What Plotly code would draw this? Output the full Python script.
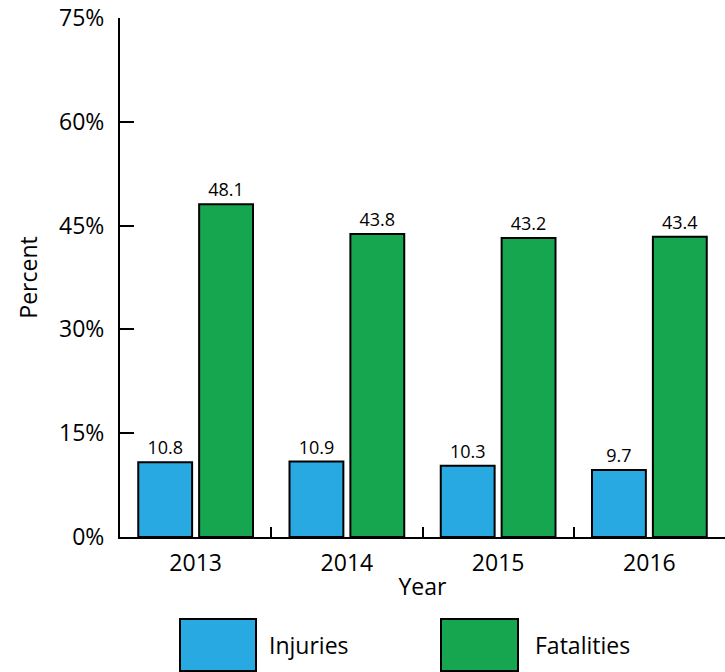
import plotly.graph_objects as go

years = ["2013", "2014", "2015", "2016"]
injuries = [10.8, 10.9, 10.3, 9.7]
fatalities = [48.1, 43.8, 43.2, 43.4]
series_names = ["Injuries", "Fatalities"]
y_ticks = [0, 15, 30, 45, 60, 75]
y_tick_labels = ["0%", "15%", "30%", "45%", "60%", "75%"]

blue = "#29a9e1"
green = "#17a650"
font_family = "Open Sans, Noto Sans, Liberation Sans, sans-serif"

W, H = 725, 672
L, T, B = 120, 18, 135
PW, PH = W - L, H - T - B

fig = go.Figure()
for name, vals, col in [(series_names[0], injuries, blue), (series_names[1], fatalities, green)]:
    fig.add_trace(go.Bar(
        x=years, y=vals, name=name,
        marker=dict(color=col, line=dict(color="black", width=2)),
        text=[f"{v:.1f}" for v in vals], textposition="outside",
        textfont=dict(size=18, color="black", family=font_family),
        cliponaxis=False, showlegend=False,
    ))

fig.update_layout(
    width=W, height=H,
    margin=dict(l=L, r=0, t=T, b=B, pad=0, autoexpand=False),
    plot_bgcolor="white", paper_bgcolor="white",
    barmode="group", bargap=0.195, bargroupgap=0.115,
    font=dict(family=font_family, size=24, color="black"),
    showlegend=False,
)
fig.update_xaxes(
    type="category", range=[-0.5, 3.5], automargin=False,
    showline=True, linecolor="black", linewidth=2,
    ticks="inside", tickson="boundaries", ticklen=10, tickwidth=2, tickcolor="black",
    showgrid=False, tickfont=dict(size=23),
    ticklabelstandoff=4, ticklabeloverflow="allow",
    title=dict(text="Year", font=dict(size=23), standoff=2),
)
fig.update_yaxes(
    range=[0, 75], tickvals=y_ticks, ticktext=y_tick_labels, automargin=False,
    showline=True, linecolor="black", linewidth=2,
    ticks="inside", ticklen=14, tickwidth=2, tickcolor="black",
    showgrid=False, zeroline=False, tickfont=dict(size=23),
    ticklabelstandoff=9, ticklabeloverflow="allow",
    title=dict(text="Percent", font=dict(size=23), standoff=15),
)

# Legend drawn as large swatches (window pixel positions)
legend_items = [(series_names[0], blue, 180, 256, 267), (series_names[1], green, 441, 518, 533)]
for name, col, x0, x1, tx in legend_items:
    fig.add_shape(type="rect", xref="paper", yref="paper",
                  x0=(x0 - L) / PW, x1=(x1 - L) / PW,
                  y0=-(671 - 537) / PH, y1=-(619 - 537) / PH,
                  fillcolor=col, line=dict(color="black", width=2))
    fig.add_annotation(text=name, xref="paper", yref="paper",
                       x=(tx - L) / PW, y=-(645 - 537) / PH,
                       xanchor="left", yanchor="middle", showarrow=False,
                       font=dict(size=23, color="black"))

fig.write_html(
    "out.html",
    config={"displayModeBar": False},
    post_script="document.body.style.margin='0';document.body.style.overflow='hidden';",
)
